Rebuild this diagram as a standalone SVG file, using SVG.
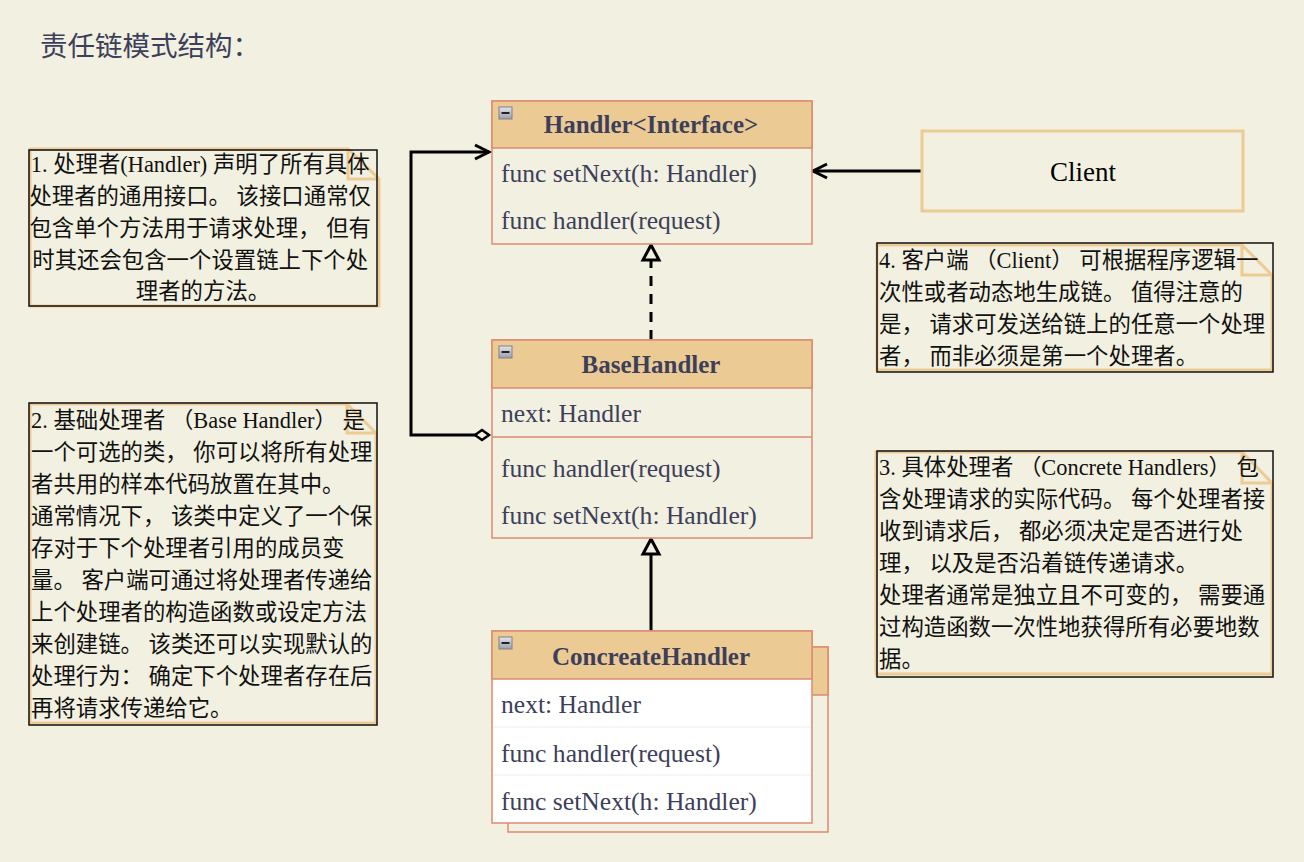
<svg xmlns="http://www.w3.org/2000/svg" width="1304" height="862" viewBox="0 0 1304 862">
<style>
.bg{fill:#f2f0e0}
.cls{stroke:#dd8a72;stroke-width:1.5}
.hdr{fill:#ecca94}
.body{fill:#f2f0e0}
.white{fill:#ffffff}
.ttl{font-family:"Liberation Serif",serif;font-size:25px;font-weight:bold;fill:#3d3f5a;text-anchor:middle}
.mem{font-family:"Liberation Serif",serif;font-size:25.6px;fill:#3d3f5a}
.note-o{fill:#f2f0e0;stroke:#edcb95;stroke-width:3}
.note-b{fill:none;stroke:#111;stroke-width:1.5}
.nt{font-family:"Liberation Serif","Noto Sans CJK SC",sans-serif;font-size:22.4px;fill:#111}
.conn{fill:none;stroke:#000;stroke-width:3}
</style>
<defs>
<marker id="open" markerUnits="userSpaceOnUse" markerWidth="16" markerHeight="16" refX="14" refY="7" orient="auto" overflow="visible">
<path d="M0,0 L14,7 L0,14" fill="none" stroke="#000" stroke-width="3"/>
</marker>
<marker id="tri" markerUnits="userSpaceOnUse" markerWidth="20" markerHeight="20" refX="15" refY="8" orient="auto" overflow="visible">
<path d="M0,0 L15,8 L0,16 Z" fill="#f2f0e0" stroke="#000" stroke-width="3" stroke-dasharray="none"/>
</marker>
<marker id="dia" markerUnits="userSpaceOnUse" markerWidth="16" markerHeight="12" refX="0" refY="5" orient="auto" overflow="visible">
<path d="M0,5 L7,0 L14,5 L7,10 Z" fill="#f2f0e0" stroke="#000" stroke-width="2.5"/>
</marker>
<linearGradient id="ig" x1="0" y1="0" x2="0" y2="1">
<stop offset="0" stop-color="#e4e6ea"/>
<stop offset="1" stop-color="#9a9ea8"/>
</linearGradient>
<g id="collapse">
<rect x="0" y="0" width="13" height="12" fill="url(#ig)" stroke="#7d808a" stroke-width="1"/>
<rect x="2.5" y="5" width="8" height="2" fill="#222"/>
</g>
</defs>

<rect class="bg" x="0" y="0" width="1304" height="862"/>

<text x="40" y="56" font-family="'Noto Sans CJK SC',sans-serif" font-size="27.5" fill="#3d3f5a">责任链模式结构：</text>

<g id="connectors">
<path class="conn" d="M922,171 L813,171" marker-end="url(#open)"/>
<path class="conn" d="M651,340 L651,245" stroke-dasharray="10,8" marker-end="url(#tri)"/>
<path class="conn" d="M651,631 L651,539" marker-end="url(#tri)"/>
<path class="conn" d="M489,435 L411,435 L411,152 L489,152" marker-start="url(#dia)" marker-end="url(#open)"/>
</g>

<g id="handler">
<rect class="cls body" x="492" y="101" width="320" height="143"/>
<rect class="cls hdr" x="492" y="101" width="320" height="47"/>
<use href="#collapse" x="499" y="107"/>
<text class="ttl" x="651" y="133">Handler&lt;Interface&gt;</text>
<text class="mem" x="501" y="182">func setNext(h: Handler)</text>
<text class="mem" x="501" y="229">func handler(request)</text>
</g>

<g id="basehandler">
<rect class="cls body" x="492" y="340" width="320" height="198"/>
<rect class="cls hdr" x="492" y="340" width="320" height="48"/>
<line class="cls" x1="492" y1="437" x2="812" y2="437"/>
<use href="#collapse" x="499" y="346"/>
<text class="ttl" x="651" y="373">BaseHandler</text>
<text class="mem" x="501" y="422">next: Handler</text>
<text class="mem" x="501" y="477">func handler(request)</text>
<text class="mem" x="501" y="524">func setNext(h: Handler)</text>
</g>

<g id="concreatehandler">
<rect class="cls body" x="508" y="647" width="320" height="185"/>
<rect class="cls hdr" x="508" y="647" width="320" height="48"/>
<rect class="cls white" x="492" y="631" width="320" height="192"/>
<rect class="cls hdr" x="492" y="631" width="320" height="48"/>
<line x1="493" y1="727" x2="811" y2="727" stroke="#eeeeee" stroke-width="1"/>
<line x1="493" y1="775" x2="811" y2="775" stroke="#eeeeee" stroke-width="1"/>
<use href="#collapse" x="499" y="637"/>
<text class="ttl" x="651" y="665">ConcreateHandler</text>
<text class="mem" x="501" y="713">next: Handler</text>
<text class="mem" x="501" y="762">func handler(request)</text>
<text class="mem" x="501" y="810">func setNext(h: Handler)</text>
</g>

<g id="client">
<rect x="922" y="131" width="321" height="80" fill="#f2f0e0" stroke="#edcb95" stroke-width="3"/>
<text x="1083" y="181" font-family="'Liberation Serif',serif" font-size="27" fill="#000" text-anchor="middle">Client</text>
</g>

<g id="note1">
<path class="note-o" d="M30,149 L348,149 L379,179 L379,306 L30,306 Z M348,149 L348,179 L379,179"/>
<rect class="note-b" x="29" y="150" width="348" height="156"/>
<text class="nt" text-anchor="middle">
<tspan x="203" y="172">1. 处理者(Handler) 声明了所有具体</tspan>
<tspan x="203" y="204">处理者的通用接口。 该接口通常仅</tspan>
<tspan x="203" y="236">包含单个方法用于请求处理， 但有</tspan>
<tspan x="203" y="268">时其还会包含一个设置链上下个处</tspan>
<tspan x="203" y="299">理者的方法。</tspan>
</text>
</g>

<g id="note2">
<path class="note-o" d="M30,404 L347,404 L376,433 L376,723 L30,723 Z M347,404 L347,433 L376,433"/>
<rect class="note-b" x="29" y="403" width="348" height="322"/>
<text class="nt">
<tspan x="31" y="428">2. 基础处理者 （Base Handler） 是</tspan>
<tspan x="31" y="460">一个可选的类， 你可以将所有处理</tspan>
<tspan x="31" y="492">者共用的样本代码放置在其中。</tspan>
<tspan x="31" y="524">通常情况下， 该类中定义了一个保</tspan>
<tspan x="31" y="556">存对于下个处理者引用的成员变</tspan>
<tspan x="31" y="588">量。 客户端可通过将处理者传递给</tspan>
<tspan x="31" y="620">上个处理者的构造函数或设定方法</tspan>
<tspan x="31" y="652">来创建链。 该类还可以实现默认的</tspan>
<tspan x="31" y="684">处理行为： 确定下个处理者存在后</tspan>
<tspan x="31" y="716">再将请求传递给它。</tspan>
</text>
</g>

<g id="note4">
<path class="note-o" d="M877,245 L1242,245 L1272,275 L1272,370 L877,370 Z M1242,245 L1242,275 L1272,275"/>
<rect class="note-b" x="877" y="243" width="396" height="129"/>
<text class="nt">
<tspan x="879" y="268">4. 客户端 （Client） 可根据程序逻辑一</tspan>
<tspan x="879" y="300">次性或者动态地生成链。 值得注意的</tspan>
<tspan x="879" y="332">是， 请求可发送给链上的任意一个处理</tspan>
<tspan x="879" y="364">者， 而非必须是第一个处理者。</tspan>
</text>
</g>

<g id="note3">
<path class="note-o" d="M876,452 L1242,452 L1272,483 L1272,674 L876,674 Z M1242,452 L1242,483 L1272,483"/>
<rect class="note-b" x="877" y="451" width="396" height="226"/>
<text class="nt">
<tspan x="879" y="475">3. 具体处理者 （Concrete Handlers） 包</tspan>
<tspan x="879" y="507">含处理请求的实际代码。 每个处理者接</tspan>
<tspan x="879" y="539">收到请求后， 都必须决定是否进行处</tspan>
<tspan x="879" y="571">理， 以及是否沿着链传递请求。</tspan>
<tspan x="879" y="603">处理者通常是独立且不可变的， 需要通</tspan>
<tspan x="879" y="635">过构造函数一次性地获得所有必要地数</tspan>
<tspan x="879" y="667">据。</tspan>
</text>
</g>
</svg>
